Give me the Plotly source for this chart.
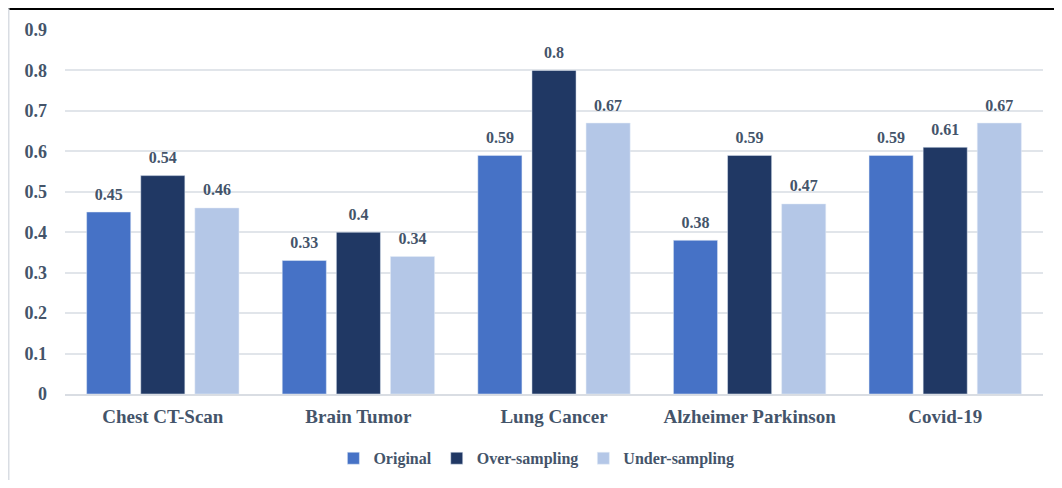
import plotly.graph_objects as go

categories = ["Chest CT-Scan", "Brain Tumor", "Lung Cancer", "Alzheimer Parkinson", "Covid-19"]
original = [0.45, 0.33, 0.59, 0.38, 0.59]
over_sampling = [0.54, 0.40, 0.80, 0.59, 0.61]
under_sampling = [0.46, 0.34, 0.67, 0.47, 0.67]
y_ticks = [0, 0.1, 0.2, 0.3, 0.4, 0.5, 0.6, 0.7, 0.8, 0.9]
y_tick_labels = ["0", "0.1", "0.2", "0.3", "0.4", "0.5", "0.6", "0.7", "0.8", "0.9"]

TXT = "#44546a"
FONT = "Liberation Serif"

series = [("Original", original, "#4672c6"),
          ("Over-sampling", over_sampling, "#203864"),
          ("Under-sampling", under_sampling, "#b4c7e7")]

fig = go.Figure()
for name, vals, col in series:
    fig.add_trace(go.Bar(x=categories, y=vals, name=name, marker_color=col,
                         hoverinfo="x+y+name"))
for name, vals, col in series:
    fig.add_trace(go.Scatter(
        x=categories, y=vals, mode="markers+text", showlegend=False,
        marker=dict(size=12, color="rgba(0,0,0,0)"),
        text=[f"{v:g}" for v in vals], textposition="top center",
        textfont=dict(family=FONT, size=16, color=TXT, weight="bold"),
        cliponaxis=False, hoverinfo="skip",
    ))

fig.update_layout(
    width=1046, height=472,
    margin=dict(l=57, r=11, t=22, b=86, autoexpand=False),
    paper_bgcolor="white", plot_bgcolor="white",
    barmode="group", bargap=0.17, bargroupgap=0.185,
    scattermode="group", scattergap=0.17,
    font=dict(family=FONT, color=TXT, weight="bold"),
    legend=dict(orientation="h", x=0.482, xanchor="center", y=-0.13, yanchor="top",
                font=dict(family=FONT, size=16, color=TXT, weight="bold"),
                itemwidth=30, tracegroupgap=0),
    xaxis=dict(showgrid=False, showline=True, linecolor="#d9dde3", linewidth=1.5,
               tickfont=dict(family=FONT, size=19, color=TXT, weight="bold"),
               ticks="", ticklabelstandoff=4, automargin=False),
    yaxis=dict(range=[0, 0.9], tickvals=y_ticks, ticktext=y_tick_labels,
               showgrid=True, gridcolor="#e1e5ea", gridwidth=1.5, zeroline=False,
               tickfont=dict(family=FONT, size=18, color=TXT, weight="bold"),
               ticks="", ticklabelstandoff=17, automargin=False),
    shapes=[
        dict(type="line", xref="paper", yref="paper", x0=-0.06, x1=1.02, y0=1.058, y1=1.058,
             line=dict(color="black", width=2)),
        dict(type="line", xref="paper", yref="paper", x0=-0.0575, x1=-0.0575, y0=-0.25, y1=1.06,
             line=dict(color="#d9dde3", width=1.5)),
    ],
)

fig.write_html("out.html")
